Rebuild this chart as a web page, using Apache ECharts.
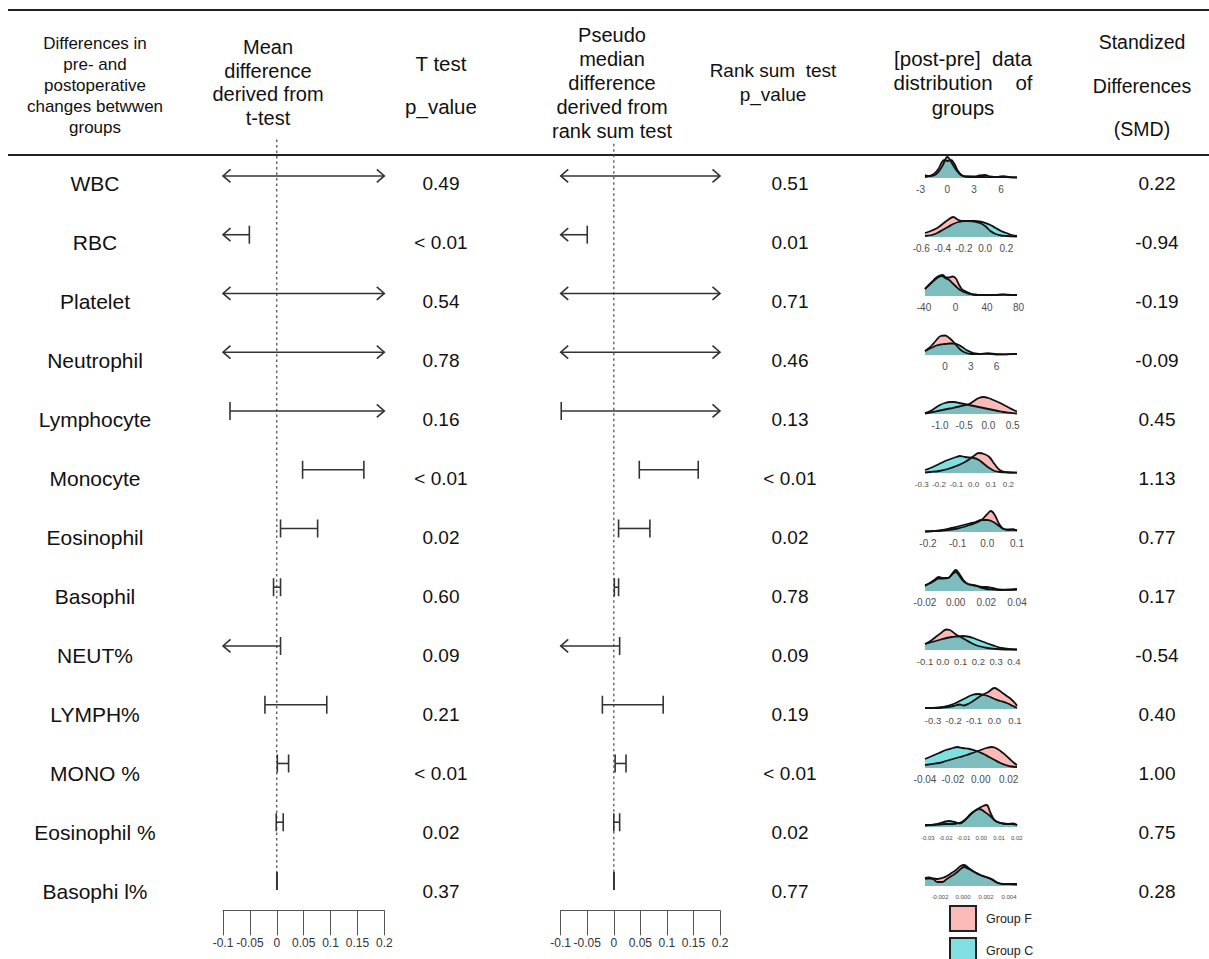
<!DOCTYPE html>
<html><head><meta charset="utf-8">
<script src="https://cdn.jsdelivr.net/npm/echarts@6/dist/echarts.min.js"></script>
<style>html,body{margin:0;padding:0;background:#fff}#c{width:1209px;height:959px}</style>
</head><body><div id="c"></div>
<script>
// ---------------- DATA ----------------
const rowLabels = ['WBC','RBC','Platelet','Neutrophil','Lymphocyte','Monocyte','Eosinophil','Basophil','NEUT%','LYMPH%','MONO %','Eosinophil %','Basophi l%'];
const tTestP   = ['0.49','< 0.01','0.54','0.78','0.16','< 0.01','0.02','0.60','0.09','0.21','< 0.01','0.02','0.37'];
const rankSumP = ['0.51','0.01','0.71','0.46','0.13','< 0.01','0.02','0.78','0.09','0.19','< 0.01','0.02','0.77'];
const smdValues = ['0.22','-0.94','-0.19','-0.09','0.45','1.13','0.77','0.17','-0.54','0.40','1.00','0.75','0.28'];

// 95% CI of mean difference (t-test); values beyond the axis are drawn as arrows
const tLower = [-0.25, -0.25, -0.25, -0.25, -0.087, 0.048, 0.007, -0.006, -0.25, -0.022, 0.001, -0.001, 0.000];
const tUpper = [ 0.35, -0.051, 0.35,  0.35,  0.35,  0.162, 0.076,  0.007,  0.007, 0.093, 0.022, 0.012, 0.0005];
// 95% CI of pseudo-median difference (rank sum test)
const rLower = [-0.25, -0.25, -0.25, -0.25, -0.099, 0.048, 0.009, 0.001, -0.25, -0.0215, 0.0025, 0.000, 0.000];
const rUpper = [ 0.35, -0.050, 0.35, 0.35,  0.35,  0.159, 0.068, 0.009,  0.011, 0.093, 0.023, 0.011, 0.0005];
const forestTicksMin = -0.1, forestTicksMax = 0.2, forestTickStep = 0.05;

// [post-pre] density estimates (x, relative density) for Group F and Group C
const densWBC_F = [[-2.5,1],[-2,2],[-1.5,4],[-1,9],[-0.6,16],[-0.3,18],[0,17],[0.4,18],[0.8,14],[1.2,7],[1.6,3],[2,1.5],[3,1.5],[3.6,2.5],[4.2,3],[4.8,1.5],[5.5,0.8],[6.5,0.8],[7.8,0.5]];
const densWBC_C = [[-2.5,3],[-2,2],[-1.5,2.5],[-1,6],[-0.5,13],[0,21],[0.5,15],[1,8],[1.5,3],[2,1.5],[3,1],[4,1],[5,0.8],[5.7,1.2],[6.3,1.8],[7,0.8],[7.8,0.6]];
const densRBC_F = [[-0.565,4],[-0.5,6.5],[-0.45,9],[-0.4,13],[-0.35,17],[-0.3,20],[-0.25,17],[-0.2,16],[-0.15,16],[-0.1,15.5],[-0.05,14],[0,11],[0.05,6],[0.1,3],[0.15,1.5],[0.2,1],[0.3,0.5]];
const densRBC_C = [[-0.565,1],[-0.5,2],[-0.45,4],[-0.4,7],[-0.35,10],[-0.3,13],[-0.25,15],[-0.2,16],[-0.15,16],[-0.1,16],[-0.05,15.5],[0,14],[0.05,12],[0.1,9],[0.15,6],[0.2,4],[0.25,2],[0.3,1]];
const densPLT_F = [[-38.7,7],[-35,10],[-30,14],[-25,18],[-20,20.5],[-16,21],[-12,18.5],[-8,18.5],[-4,19.5],[0,18],[4,12],[8,7],[12,5],[16,3.5],[20,2],[25,1],[30,1],[40,1],[50,1],[60,1.3],[70,1],[78,1]];
const densPLT_C = [[-38.7,7],[-35,10],[-30,13.5],[-25,17],[-20,19.5],[-17,20],[-13,18],[-8,16],[-4,13],[0,10],[4,7],[8,5],[12,3.5],[16,2.5],[20,2],[25,1.5],[30,1],[40,0.8],[50,1],[60,1.5],[70,1.2],[78,1]];
const densNEU_F = [[-2.33,4],[-2,6],[-1.5,10],[-1,15],[-0.5,19],[0,19.5],[0.5,17],[1,13],[1.5,8],[2,4],[2.5,2],[3,1],[4,1],[5,1.8],[6,0.8],[7,0.7],[8,0.8],[8.4,1]];
const densNEU_C = [[-2.33,4],[-2,5.5],[-1.5,7.5],[-1,9.5],[-0.5,10.5],[0,11],[0.5,11.5],[1,11.5],[1.5,10.5],[2,8],[2.5,5],[3,3],[3.5,1.5],[4,1],[5,1.2],[6,0.5],[7,0.6],[8,1],[8.4,1]];
const densLYM_F = [[-1.31,0.5],[-1.2,1.5],[-1,3.5],[-0.8,5.5],[-0.6,7.5],[-0.4,10],[-0.3,13],[-0.2,16],[-0.1,17],[0,16],[0.1,14],[0.2,12],[0.3,9.5],[0.4,7],[0.5,4.5],[0.59,2.5]];
const densLYM_C = [[-1.31,1],[-1.2,3],[-1.1,6],[-1,9],[-0.9,11],[-0.8,12],[-0.7,12],[-0.6,11],[-0.5,10],[-0.4,9],[-0.3,8],[-0.2,7],[-0.1,6],[0,5],[0.1,4],[0.2,3],[0.3,2],[0.4,1.3],[0.5,0.8],[0.59,0.5]];
const densMON_F = [[-0.281,0.5],[-0.25,1],[-0.2,2],[-0.15,4],[-0.1,7],[-0.05,11],[0,17],[0.03,20],[0.06,19],[0.09,16],[0.12,9],[0.15,3],[0.18,1],[0.21,0.5],[0.25,0.3]];
const densMON_C = [[-0.281,3],[-0.25,5],[-0.2,9],[-0.15,13],[-0.1,16],[-0.08,17],[-0.05,16],[0,15],[0.03,13],[0.06,9],[0.09,5],[0.12,2],[0.15,1],[0.2,0.5],[0.25,0.3]];
const densEOS_F = [[-0.21,0.5],[-0.18,0.8],[-0.15,1.5],[-0.12,2.5],[-0.1,3.5],[-0.08,5],[-0.06,7],[-0.04,9],[-0.02,12],[0,18],[0.012,21],[0.025,17],[0.04,8],[0.055,3],[0.07,2.5],[0.085,2.5],[0.1,1.5]];
const densEOS_C = [[-0.21,0.5],[-0.18,1],[-0.15,2],[-0.12,4],[-0.1,5.5],[-0.08,7],[-0.06,8.5],[-0.04,10],[-0.02,12],[0,12],[0.02,10],[0.04,6],[0.055,3],[0.07,2],[0.085,2.5],[0.1,1.5]];
const densBAS_F = [[-0.02,5],[-0.017,8],[-0.014,11],[-0.011,14],[-0.008,13],[-0.005,13],[-0.002,18],[0,21],[0.002,18],[0.005,11],[0.008,7],[0.011,6],[0.014,5],[0.017,3],[0.02,2],[0.025,1.5],[0.03,1],[0.035,1.5],[0.04,2]];
const densBAS_C = [[-0.02,6],[-0.017,7.5],[-0.014,10],[-0.011,12.5],[-0.008,12.5],[-0.005,13],[-0.002,17],[0,19],[0.002,16],[0.005,10],[0.008,7],[0.011,6],[0.014,5],[0.017,4],[0.02,4],[0.024,3],[0.028,1.5],[0.035,1.2],[0.04,1.5]];
const densNEP_F = [[-0.1,6],[-0.07,9],[-0.04,13],[-0.01,17],[0.02,20.5],[0.04,20],[0.07,16],[0.1,13],[0.13,10],[0.16,7],[0.2,4],[0.25,2],[0.3,1],[0.35,0.5],[0.417,0.3]];
const densNEP_C = [[-0.1,6],[-0.07,7.5],[-0.04,9],[-0.01,10.5],[0.02,12],[0.05,13],[0.08,13.5],[0.11,14],[0.14,13.5],[0.17,12],[0.2,10],[0.23,8],[0.26,6],[0.3,3.5],[0.33,2],[0.37,1],[0.417,0.5]];
const densLYP_F = [[-0.339,1],[-0.3,1],[-0.25,1.5],[-0.2,3],[-0.17,4.5],[-0.15,3.5],[-0.12,6],[-0.09,10],[-0.06,14],[-0.03,17],[0,21],[0.02,19],[0.04,16],[0.06,13],[0.08,10],[0.1,6],[0.11,3]];
const densLYP_C = [[-0.339,1],[-0.3,1],[-0.25,2],[-0.2,5],[-0.17,8],[-0.14,11],[-0.11,14],[-0.08,15],[-0.05,14],[-0.02,12],[0,10],[0.03,8],[0.06,6],[0.09,3],[0.11,1]];
const densMOP_F = [[-0.04,3],[-0.035,4],[-0.03,5],[-0.025,7],[-0.02,9],[-0.015,11],[-0.01,13],[-0.005,15.5],[0,18],[0.004,20],[0.008,21],[0.012,19],[0.016,15],[0.02,10],[0.024,5],[0.026,3]];
const densMOP_C = [[-0.04,9],[-0.035,12],[-0.03,15],[-0.025,18],[-0.02,20],[-0.017,21],[-0.013,20],[-0.008,19],[-0.003,17],[0.002,14],[0.006,11],[0.01,8],[0.014,5],[0.018,3],[0.022,1.5],[0.026,1]];
const densEOP_F = [[-0.0316,1.5],[-0.028,2],[-0.024,2.5],[-0.02,3],[-0.017,3],[-0.014,3.5],[-0.011,5],[-0.008,9],[-0.005,14],[-0.002,18],[0.001,21],[0.003,22],[0.005,15],[0.007,8],[0.009,5],[0.012,3.5],[0.015,3],[0.018,3.5],[0.0201,2]];
const densEOP_C = [[-0.0316,2],[-0.028,2],[-0.024,3.5],[-0.02,5.5],[-0.018,6],[-0.015,5],[-0.012,3.5],[-0.009,7],[-0.006,13],[-0.003,17],[-0.001,18],[0.002,15],[0.005,11],[0.008,6],[0.011,4],[0.014,3],[0.017,3],[0.019,2.5],[0.0201,1.5]];
const densBAP_F = [[-0.0033,7],[-0.003,7.5],[-0.0026,7.5],[-0.0022,7],[-0.0018,8],[-0.0014,10],[-0.001,13],[-0.0006,16],[-0.0002,20],[0.0001,21],[0.0005,18],[0.001,14],[0.0015,11],[0.002,9],[0.0025,7],[0.003,3.5],[0.0035,2],[0.004,2],[0.0047,2]];
const densBAP_C = [[-0.0033,8],[-0.003,8.5],[-0.0026,7],[-0.0022,4],[-0.0018,4],[-0.0014,7],[-0.001,10],[-0.0006,13],[-0.0002,17],[0.0001,19],[0.0005,17],[0.001,14],[0.0015,11],[0.002,9],[0.0025,6.5],[0.003,3],[0.0035,2],[0.004,2],[0.0047,1.5]];

const densTicks = [
  ['-3','0','3','6'],
  ['-0.6','-0.4','-0.2','0.0','0.2'],
  ['-40','0','40','80'],
  ['0','3','6'],
  ['-1.0','-0.5','0.0','0.5'],
  ['-0.3','-0.2','-0.1','0.0','0.1','0.2'],
  ['-0.2','-0.1','0.0','0.1'],
  ['-0.02','0.00','0.02','0.04'],
  ['-0.1','0.0','0.1','0.2','0.3','0.4'],
  ['-0.3','-0.2','-0.1','0.0','0.1'],
  ['-0.04','-0.02','0.00','0.02'],
  ['-0.03','-0.02','-0.01','0.00','0.01','0.02'],
  ['-0.002','0.000','0.002','0.004']
];
const densF = [densWBC_F,densRBC_F,densPLT_F,densNEU_F,densLYM_F,densMON_F,densEOS_F,densBAS_F,densNEP_F,densLYP_F,densMOP_F,densEOP_F,densBAP_F];
const densC = [densWBC_C,densRBC_C,densPLT_C,densNEU_C,densLYM_C,densMON_C,densEOS_C,densBAS_C,densNEP_C,densLYP_C,densMOP_C,densEOP_C,densBAP_C];
const groupNames = ['Group F','Group C'];

// ---------------- STYLE / LAYOUT ----------------
const FONT = '"Liberation Sans", Arial, Helvetica, sans-serif';
const densTickFont = [10,10,10,10,10,8,10,10,9.5,9.5,10,6,6];
const colX = {label: 95, tP: 441, rP: 790, smd: 1157};
const headerBlocks = [
  {text:'Differences in\npre- and\npostoperative\nchanges betwwen\ngroups', x:95, y:85, size:17, lh:21},
  {text:'Mean\ndifference\nderived from\nt-test', x:268, y:82.5, size:20, lh:23.7},
  {text:'T test\n\np_value', x:441, y:84.5, size:20.5, lh:21.5},
  {text:'Pseudo\nmedian\ndifference\nderived from\nrank sum test', x:612, y:83, size:20, lh:24},
  {text:'Rank sum  test\np_value', x:773, y:82, size:19, lh:24},
  {text:'[post-pre]  data\ndistribution    of\ngroups', x:963, y:82.5, size:20.5, lh:24.5},
  {text:'Standized\n\nDifferences\n\n(SMD)', x:1142, y:85.5, size:19.5, lh:21.75}
];

function makeCiRender(xmin, xmax) {
  return function (params, api) {
    const lo = api.value(0), hi = api.value(1), row = api.value(2);
    const a = api.coord([Math.max(lo, xmin), row]);
    const b = api.coord([Math.min(hi, xmax), row]);
    const st = {stroke:'#333', lineWidth:1.6, fill:null};
    const kids = [{type:'line', shape:{x1:a[0],y1:a[1],x2:b[0],y2:b[1]}, style:st}];
    kids.push(lo < xmin
      ? {type:'polyline', shape:{points:[[a[0]+7.5,a[1]-6.5],[a[0],a[1]],[a[0]+7.5,a[1]+6.5]]}, style:st}
      : {type:'line', shape:{x1:a[0],y1:a[1]-9,x2:a[0],y2:a[1]+9}, style:st});
    kids.push(hi > xmax
      ? {type:'polyline', shape:{points:[[b[0]-7.5,b[1]-6.5],[b[0],b[1]],[b[0]-7.5,b[1]+6.5]]}, style:st}
      : {type:'line', shape:{x1:b[0],y1:b[1]-9,x2:b[0],y2:b[1]+9}, style:st});
    return {type:'group', children:kids};
  };
}
function makeZeroRender(topRows, bottomRows) {
  return function (params, api) {
    const p0 = api.coord([0, 0]);
    const p1 = api.coord([0, rowLabels.length - 1]);
    const h = api.size([0, 1])[1];
    return {type:'line', shape:{x1:p0[0], y1:p0[1] - topRows*h, x2:p1[0], y2:p1[1] + bottomRows*h},
            style:{stroke:'#555', lineWidth:1.3, lineDash:[2.5,3]}};
  };
}
function tableRender(params, api) {
  const i = params.dataIndex;
  const y = api.coord([0, i])[1];
  const t = (txt, x, size) => ({type:'text', x:x, y:y, style:{text:txt, align:'center', verticalAlign:'middle', fontSize:size, fontFamily:FONT, fill:'#111'}});
  return {type:'group', children:[
    t(rowLabels[i], colX.label, 21),
    t(tTestP[i], colX.tP, 19),
    t(rankSumP[i], colX.rP, 19),
    t(smdValues[i], colX.smd, 19)
  ]};
}

const grids = [
  {left:0, top:153.5, width:1209, height:768},
  {left:223, top:146.6, width:161.3, height:763.75},
  {left:560.7, top:146.6, width:159.3, height:763.75}
];
const xAxes = [
  {gridIndex:0, type:'value', min:0, max:1, show:false}
];
const yAxes = [
  {gridIndex:0, type:'category', data:rowLabels, inverse:true, show:false}
];
[1,2].forEach(g => {
  xAxes.push({gridIndex:g, type:'value', min:forestTicksMin, max:forestTicksMax, interval:forestTickStep,
    axisLine:{show:true, lineStyle:{color:'#555', width:1}},
    axisTick:{show:true, length:25, lineStyle:{color:'#555', width:1}},
    axisLabel:{margin:33, verticalAlign:'middle', fontSize:12, color:'#333', fontFamily:FONT},
    splitLine:{show:false}});
  yAxes.push({gridIndex:g, type:'category', data:rowLabels, inverse:true, show:false});
});

const series = [
  {type:'custom', xAxisIndex:0, yAxisIndex:0, data:rowLabels.map((n,i)=>[0,i]), encode:{x:0,y:1}, renderItem:tableRender, silent:true},
  {type:'custom', xAxisIndex:1, yAxisIndex:1, data:[[0,0]], encode:{x:0,y:1}, renderItem:makeZeroRender(0.62,0.19), silent:true},
  {type:'custom', xAxisIndex:1, yAxisIndex:1, data:tLower.map((v,i)=>[v,tUpper[i],i]), encode:{x:[0,1],y:2}, renderItem:makeCiRender(forestTicksMin,forestTicksMax), silent:true},
  {type:'custom', xAxisIndex:2, yAxisIndex:2, data:[[0,0]], encode:{x:0,y:1}, renderItem:makeZeroRender(0.55,0.0), silent:true},
  {type:'custom', xAxisIndex:2, yAxisIndex:2, data:rLower.map((v,i)=>[v,rUpper[i],i]), encode:{x:[0,1],y:2}, renderItem:makeCiRender(forestTicksMin,forestTicksMax), silent:true}
];

densF.forEach((fd, i) => {
  const cd = densC[i];
  const lo = Math.min(fd[0][0], cd[0][0]);
  const hi = Math.max(fd[fd.length-1][0], cd[cd.length-1][0]);
  const pad = 0.05 * (hi - lo);
  const g = grids.length;
  const baseline = 178 + 59 * i;
  grids.push({left:920.4, width:101.2, top:baseline - 24, height:24});
  const labels = densTicks[i];
  xAxes.push({gridIndex:g, type:'value', min:lo - pad, max:hi + pad,
    axisLine:{show:false}, axisTick:{show:false}, splitLine:{show:false},
    axisLabel:{customValues:labels.map(Number), showMinLabel:true, showMaxLabel:true,
      formatter:(v)=>{ for (const s of labels) { if (Math.abs(Number(s) - v) < 1e-9) return s; } return ''; },
      fontSize:densTickFont[i], color:'#4d4d4d', fontFamily:FONT, margin:11, verticalAlign:'middle'}});
  yAxes.push({gridIndex:g, type:'value', min:0, max:24, show:false});
  [[fd,'#F8766D',groupNames[0]],[cd,'#00BFC4',groupNames[1]]].forEach(([d,col,nm]) => {
    series.push({type:'line', name:nm, xAxisIndex:g, yAxisIndex:g, data:d, smooth:0.4, symbol:'none',
      color:col, lineStyle:{color:'#111', width:1.8}, areaStyle:{color:col, opacity:0.5}, silent:true, z:3});
  });
});

const graphic = [
  {type:'line', shape:{x1:8,y1:10,x2:1209,y2:10}, style:{stroke:'#222', lineWidth:2}},
  {type:'line', shape:{x1:8,y1:155,x2:1209,y2:155}, style:{stroke:'#222', lineWidth:2}}
];
headerBlocks.forEach(h => graphic.push({type:'text', x:h.x, y:h.y,
  style:{text:h.text, align:'center', verticalAlign:'middle', fontSize:h.size, fontFamily:FONT, lineHeight:h.lh, fill:'#111'}}));

const legendBase = {orient:'vertical', left:949, itemWidth:26, itemHeight:25, selectedMode:false,
  textStyle:{fontSize:12.5, color:'#222', fontFamily:FONT, padding:[0,0,0,5]}, padding:0};
const legendColors = ['#FBBAB6', '#80DFE1'];
const legendTops = [905, 937];
const legends = groupNames.map((nm, k) => Object.assign({}, legendBase, {top:legendTops[k],
  data:[{name:nm, icon:'rect', itemStyle:{color:legendColors[k], borderColor:'#222', borderWidth:2}}]}));

const chart = echarts.init(document.getElementById('c'), null, {renderer:'svg'});
chart.setOption({
  animation:false,
  backgroundColor:'#fff',
  grid:grids, xAxis:xAxes, yAxis:yAxes, series:series, graphic:graphic,
  legend:legends
});
</script></body></html>
